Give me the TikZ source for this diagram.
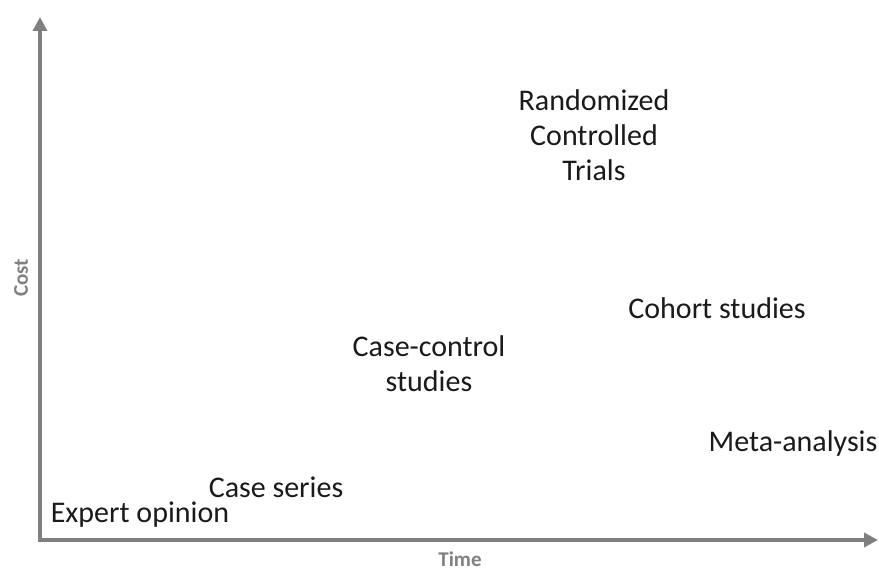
\documentclass[tikz,border=0pt]{standalone}
\usepackage{fontspec}
\setmainfont{Carlito}
\usetikzlibrary{arrows.meta}
\definecolor{axisgray}{HTML}{7F7F7F}
\definecolor{labelgray}{HTML}{808080}
\definecolor{txt}{HTML}{1A1A1A}
\tikzset{
  axis/.style={draw=axisgray, line width=4pt, -{Triangle[length=14pt,width=14pt]}},
  item/.style={text=txt, font=\fontsize{30}{35}\selectfont, align=center, inner sep=0pt},
  axlabel/.style={text=labelgray, font=\fontsize{21}{23}\selectfont\bfseries, inner sep=0pt}
}
\begin{document}
\begin{tikzpicture}[x=1pt,y=-1pt]
\useasboundingbox (0,0) rectangle (879,572);
\coordinate (O) at (40,540);
\coordinate (top) at (40,17);
\coordinate (right) at (878,540);
\draw[axis] ([yshift=-2pt]O) -- (top);
\draw[axis] ([xshift=-2pt]O) -- (right);
\node[axlabel, rotate=90] (cost) at (21,278) {Cost};
\node[axlabel] (time) at (460,559) {Time};
\node[item] (rct) at (594,135) {Randomized\\Controlled\\Trials};
\node[item] (cohort) at (717,308) {Cohort studies};
\node[item] (cc) at (429,364) {Case-control\\studies};
\node[item] (meta) at (793,444) {Meta-analysis};
\node[item] (series) at (276,487) {Case series};
\node[item] (expert) at (140,515) {Expert opinion};
\end{tikzpicture}
\end{document}
